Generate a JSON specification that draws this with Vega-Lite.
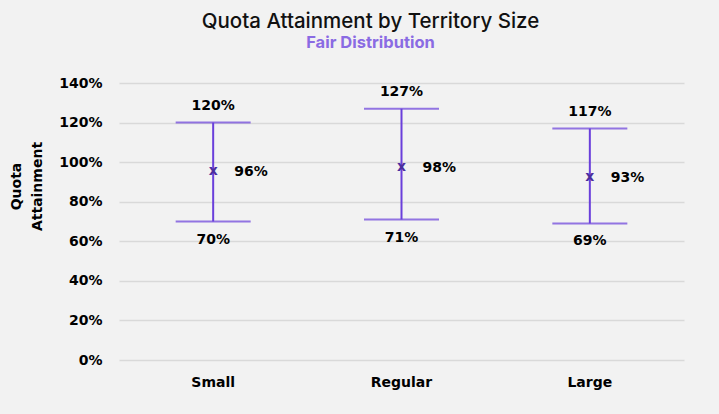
{
  "$schema": "https://vega.github.io/schema/vega-lite/v6.json",
  "width": 565,
  "height": 277,
  "autosize": {"type": "none"},
  "padding": {"left": 119, "top": 83, "right": 35, "bottom": 54},
  "background": "#f2f2f2",
  "title": {
    "text": "Quota Attainment by Territory Size",
    "subtitle": "Fair Distribution",
    "font": "Inter",
    "fontSize": 20.5,
    "fontWeight": 500,
    "color": "#111111",
    "subtitleFont": "Inter",
    "subtitleFontSize": 16.5,
    "subtitleFontWeight": "bold",
    "subtitleColor": "#8a6be3",
    "subtitlePadding": 2,
    "anchor": "middle",
    "frame": "group",
    "dx": -31,
    "offset": 25
  },
  "config": {
    "view": {"stroke": null},
    "axis": {
      "labelFont": "DejaVu Sans",
      "labelFontWeight": "bold",
      "labelFontSize": 14,
      "labelColor": "#000000",
      "titleFont": "DejaVu Sans",
      "titleFontWeight": "bold",
      "titleFontSize": 14,
      "titleColor": "#000000",
      "ticks": false,
      "domain": false,
      "labelOverlap": false
    }
  },
  "data": {
    "values": [
      {"size": "Small", "low": 0.70, "mean": 0.96, "high": 1.20},
      {"size": "Regular", "low": 0.71, "mean": 0.98, "high": 1.27},
      {"size": "Large", "low": 0.69, "mean": 0.93, "high": 1.17}
    ]
  },
  "encoding": {
    "x": {
      "field": "size",
      "type": "nominal",
      "sort": ["Small", "Regular", "Large"],
      "scale": {"type": "band", "paddingInner": 0, "paddingOuter": 0},
      "axis": {"title": null, "labelAngle": 0, "labelPadding": 15, "grid": false}
    }
  },
  "layer": [
    {
      "mark": {"type": "rule", "color": "#6a3fdb", "strokeWidth": 2},
      "encoding": {
        "y": {
          "field": "low",
          "type": "quantitative",
          "scale": {"domain": [0, 1.4], "nice": false},
          "axis": {
            "title": ["Quota", "Attainment"],
            "values": [0, 0.2, 0.4, 0.6, 0.8, 1.0, 1.2, 1.4],
            "tickCount": 20,
            "format": ".0%",
            "labelPadding": 17,
            "labelOverlap": false,
            "grid": true,
            "gridColor": "#d9d9d9",
            "gridWidth": 1.5,
            "titleX": -103,
            "titleY": 103,
            "titleAlign": "center",
            "titleBaseline": "middle",
            "titleLineHeight": 21
          }
        },
        "y2": {"field": "high"}
      }
    },
    {
      "mark": {"type": "tick", "color": "#6a3fdb", "size": 75, "thickness": 2, "orient": "horizontal"},
      "encoding": {"y": {"field": "high", "type": "quantitative"}}
    },
    {
      "mark": {"type": "tick", "color": "#6a3fdb", "size": 75, "thickness": 2, "orient": "horizontal"},
      "encoding": {"y": {"field": "low", "type": "quantitative"}}
    },
    {
      "mark": {"type": "text", "text": "x", "font": "DejaVu Sans", "fontWeight": "bold", "fontSize": 14, "color": "#4b2e9e", "baseline": "alphabetic", "align": "center", "dy": 5},
      "encoding": {"y": {"field": "mean", "type": "quantitative"}}
    },
    {
      "mark": {"type": "text", "font": "DejaVu Sans", "fontWeight": "bold", "fontSize": 14, "color": "#000000", "baseline": "middle", "dy": -17},
      "encoding": {
        "y": {"field": "high", "type": "quantitative"},
        "text": {"field": "high", "type": "quantitative", "format": ".0%"}
      }
    },
    {
      "mark": {"type": "text", "font": "DejaVu Sans", "fontWeight": "bold", "fontSize": 14, "color": "#000000", "baseline": "middle", "dy": 18},
      "encoding": {
        "y": {"field": "low", "type": "quantitative"},
        "text": {"field": "low", "type": "quantitative", "format": ".0%"}
      }
    },
    {
      "mark": {"type": "text", "font": "DejaVu Sans", "fontWeight": "bold", "fontSize": 14, "color": "#000000", "baseline": "middle", "align": "left", "dx": 21, "dy": 2},
      "encoding": {
        "y": {"field": "mean", "type": "quantitative"},
        "text": {"field": "mean", "type": "quantitative", "format": ".0%"}
      }
    }
  ]
}
